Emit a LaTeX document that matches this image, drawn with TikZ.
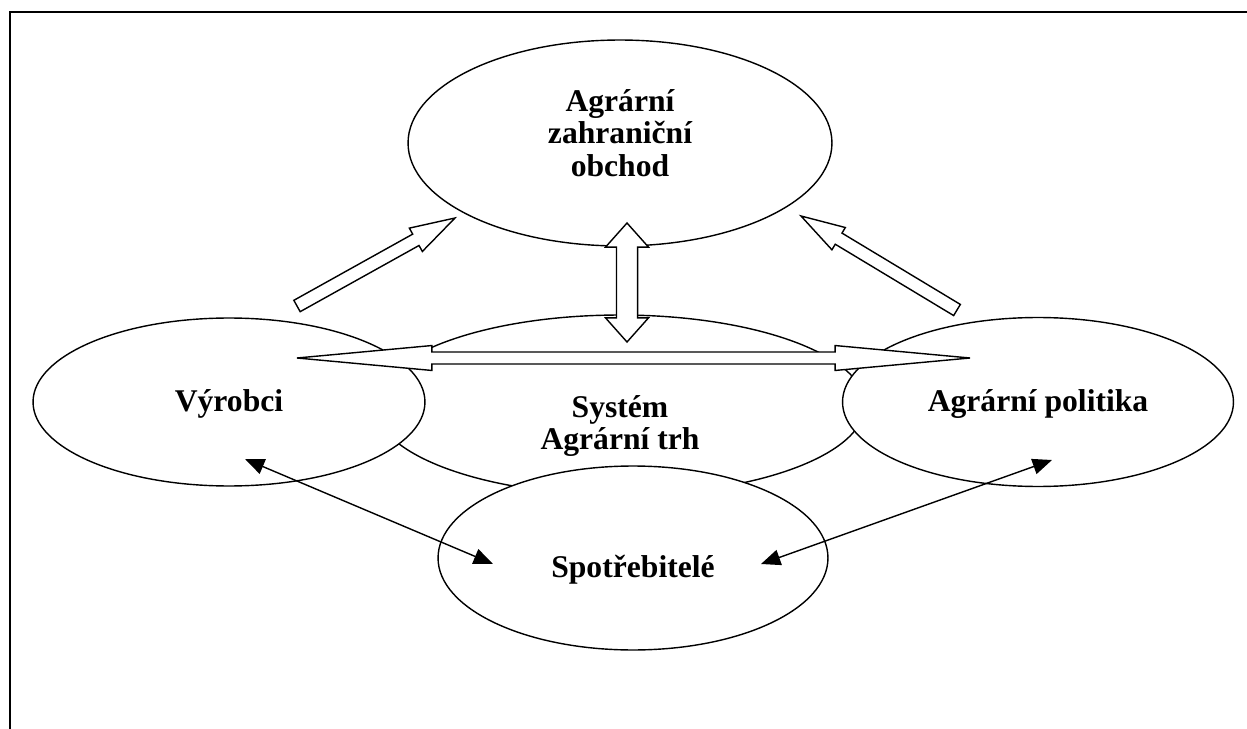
\documentclass[tikz,border=0pt]{standalone}
\usepackage{fontspec}
\setmainfont{Liberation Serif}
\usetikzlibrary{calc, shapes.geometric, arrows.meta}

\begin{document}
\begin{tikzpicture}[x=0.02cm, y=-0.02cm,
    bubble/.style={ellipse, draw=black, fill=white, line width=0.8pt, inner sep=0pt},
    caption/.style={font=\bfseries\fontsize{18}{18.5}\selectfont, align=center, inner sep=0pt},
    blockarrow/.style={draw=black, fill=white, line width=0.8pt, line join=miter},
    thinarrow/.style={line width=0.8pt,
        {Triangle[length=11pt, width=9pt]}-{Triangle[length=11pt, width=9pt]}}]

% --- MACRO: SINGLE BLOCK ARROW ---
% #1: tail, #2: tip, #3: shaft half width, #4: head half width, #5: head length
\newcommand{\blockArrow}[5]{
    \coordinate (hb) at ($(#2)!#5!(#1)$);
    \draw[blockarrow] ($(#1)!#3!90:(#2)$) -- ($(hb)!#3!90:(#2)$)
        -- ($(hb)!#4!90:(#2)$) -- (#2) -- ($(hb)!#4!-90:(#2)$)
        -- ($(hb)!#3!-90:(#2)$) -- ($(#1)!#3!-90:(#2)$) -- cycle;
}

% --- MACRO: DOUBLE BLOCK ARROW ---
% #1, #2: tips, #3: shaft half width, #4: head half width, #5: head length
\newcommand{\dblArrow}[5]{
    \coordinate (ha) at ($(#1)!#5!(#2)$);
    \coordinate (hb) at ($(#2)!#5!(#1)$);
    \draw[blockarrow] (#1) -- ($(ha)!#4!90:(#2)$) -- ($(ha)!#3!90:(#2)$)
        -- ($(hb)!#3!90:(#2)$) -- ($(hb)!#4!90:(#2)$) -- (#2)
        -- ($(hb)!#4!-90:(#2)$) -- ($(hb)!#3!-90:(#2)$)
        -- ($(ha)!#3!-90:(#2)$) -- ($(ha)!#4!-90:(#2)$) -- cycle;
}

\useasboundingbox (0,0) rectangle (1247,729);

% Frame
\draw[line width=1.2pt] (10,729) -- (10,12) -- (1247,12);

% --- ELLIPSES ---
\node[bubble, minimum width=9.8cm, minimum height=3.6cm] (trh) at (620,405) {};
\node[bubble, minimum width=8.48cm, minimum height=4.12cm] (obchod) at (620,143) {};
\node[bubble, minimum width=7.84cm, minimum height=3.36cm] (vyrobci) at (229,402) {};
\node[bubble, minimum width=7.82cm, minimum height=3.38cm] (politika) at (1038,402) {};
\node[bubble, minimum width=7.8cm, minimum height=3.68cm] (spotr) at (633,558) {};

% --- BLOCK ARROWS ---
\coordinate (vyTail) at (297,306);
\coordinate (vyTip) at (455,218);
\coordinate (poTail) at (957,310);
\coordinate (poTip) at (801,216);
\coordinate (obTop) at (627,223);
\coordinate (obBot) at (627,342);
\coordinate (trhL) at (297,358);
\coordinate (trhR) at (970,358);

\blockArrow{vyTail}{vyTip}{3.7pt}{7.6pt}{25.5pt}
\blockArrow{poTail}{poTip}{3.7pt}{7.4pt}{25pt}
\dblArrow{obTop}{obBot}{6pt}{12.2pt}{13.7pt}
\dblArrow{trhL}{trhR}{3.4pt}{7.1pt}{76.8pt}

% --- THIN ARROWS ---
\coordinate (vyEnd) at (245,459);
\coordinate (spEndL) at (493,564);
\coordinate (poEnd) at (1052,460);
\coordinate (spEndR) at (761,564);
\draw[thinarrow] (vyEnd) -- (spEndL);
\draw[thinarrow] (poEnd) -- (spEndR);

% --- LABELS ---
\node[caption] (obchodText) at (620,133) {Agrární\\zahraniční\\obchod};
\node[caption] (vyrobciText) at (229,404) {Výrobci};
\node[caption] (trhText) at (620,426) {Systém\\Agrární trh};
\node[caption] (politikaText) at (1038,404) {Agrární politika};
\node[caption] (spotrText) at (633,570) {Spotřebitelé};

\end{tikzpicture}
\end{document}
